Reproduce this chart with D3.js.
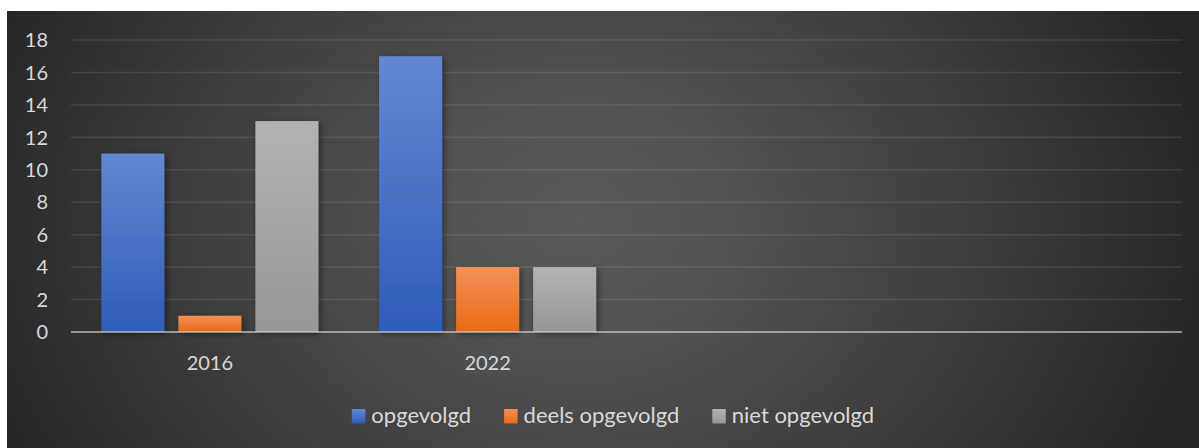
<!DOCTYPE html>
<html>
<head>
<meta charset="utf-8">
<script src="https://cdn.jsdelivr.net/npm/d3@7"></script>
<style>
  html, body { margin: 0; padding: 0; background: #fff; }
  svg { display: block; }
  text { font-family: Lato, "Open Sans", sans-serif; fill: #d9d9d9; }
</style>
</head>
<body>
<div id="chart"></div>
<script>
// categories on the x axis (Excel left two empty slots)
var categories = ["2016", "2022", "", ""];
var seriesNames = ["opgevolgd", "deels opgevolgd", "niet opgevolgd"];
var opgevolgd = [11, 17];
var deelsOpgevolgd = [1, 4];
var nietOpgevolgd = [13, 4];
var yTicks = [0, 2, 4, 6, 8, 10, 12, 14, 16, 18];

var W = 1199, H = 448;
var colors = [
    { top: "#6487d2", bottom: "#2d5db8" },
    { top: "#f39158", bottom: "#e96a14" },
    { top: "#b3b3b3", bottom: "#979797" }
];

var svg = d3.select("#chart").append("svg").attr("width", W).attr("height", H);
var defs = svg.append("defs");

var bg = defs.append("radialGradient").attr("id", "bg")
    .attr("gradientUnits", "userSpaceOnUse")
    .attr("cx", 580).attr("cy", 220).attr("r", 640)
    .attr("gradientTransform", "translate(580,220) scale(1,0.8) translate(-580,-220)");
bg.append("stop").attr("offset", "0").attr("stop-color", "#595959");
bg.append("stop").attr("offset", "0.25").attr("stop-color", "#525252");
bg.append("stop").attr("offset", "1").attr("stop-color", "#262626");

colors.forEach(function (c, i) {
    var g = defs.append("linearGradient").attr("id", "g" + i)
        .attr("x1", 0).attr("y1", 0).attr("x2", 0).attr("y2", 1);
    g.append("stop").attr("offset", "0").attr("stop-color", c.top);
    g.append("stop").attr("offset", "1").attr("stop-color", c.bottom);
});

var sh = defs.append("filter").attr("id", "shadow")
    .attr("x", "-20%").attr("y", "-20%").attr("width", "150%").attr("height", "150%");
sh.append("feDropShadow").attr("dx", 2).attr("dy", 2).attr("stdDeviation", 3)
    .attr("flood-color", "#000").attr("flood-opacity", 0.45);

// chart area background
svg.append("rect").attr("x", 7).attr("y", 11).attr("width", W - 7).attr("height", H - 11)
    .attr("fill", "url(#bg)");

var plotLeft = 71, plotRight = 1182, plotTop = 40, plotBottom = 332;

var x = d3.scaleBand().domain(d3.range(categories.length)).range([plotLeft, plotRight]).padding(0);
var xs = d3.scaleBand().domain(seriesNames).range([0, x.bandwidth()])
    .paddingInner(0.182).paddingOuter(0.394);
var y = d3.scaleLinear().domain([0, 18]).range([plotBottom, plotTop]);

// gridlines
svg.append("g").selectAll("line").data(yTicks.filter(function (d) { return d > 0; }))
    .enter().append("line")
    .attr("x1", plotLeft).attr("x2", plotRight)
    .attr("y1", function (d) { return y(d); }).attr("y2", function (d) { return y(d); })
    .attr("stroke", "#fff").attr("stroke-opacity", 0.1).attr("stroke-width", 1.5);

// y labels
svg.append("g").selectAll("text").data(yTicks).enter().append("text")
    .attr("x", 48).attr("y", function (d) { return y(d); }).attr("dy", "0.36em")
    .attr("text-anchor", "end").style("font-size", "20px")
    .text(function (d) { return d; });

// bars
var values = [opgevolgd, deelsOpgevolgd, nietOpgevolgd];
var rows = [];
values.forEach(function (arr, s) {
    arr.forEach(function (v, c) {
        rows.push({ s: s, c: c, v: v });
    });
});

svg.append("g").selectAll("rect").data(rows).enter().append("rect")
    .attr("x", function (d) { return x(d.c) + xs(seriesNames[d.s]); })
    .attr("y", function (d) { return y(d.v); })
    .attr("width", xs.bandwidth())
    .attr("height", function (d) { return y(0) - y(d.v); })
    .attr("fill", function (d) { return "url(#g" + d.s + ")"; })
    .attr("filter", "url(#shadow)");

// zero axis line
svg.append("line").attr("x1", plotLeft).attr("x2", plotRight).attr("y1", y(0)).attr("y2", y(0))
    .attr("stroke", "#d9d9d9").attr("stroke-opacity", 0.6).attr("stroke-width", 2);

// x labels
svg.append("g").selectAll("text").data(d3.range(categories.length)).enter().append("text")
    .attr("x", function (i) { return x(i) + x.bandwidth() / 2; }).attr("y", 370)
    .attr("text-anchor", "middle").style("font-size", "20px")
    .text(function (i) { return categories[i]; });

// legend
var leg = svg.append("g");
var items = leg.selectAll("g").data(seriesNames).enter().append("g");
items.append("rect").attr("width", 13.5).attr("height", 14.5).attr("y", 409)
    .attr("fill", function (d, i) { return "url(#g" + i + ")"; });
items.append("text").attr("x", 19.5).attr("y", 423).style("font-size", "22px")
    .text(function (d) { return d; });

var pos = 0, offs = [];
items.each(function () {
    offs.push(pos);
    pos += 19.5 + d3.select(this).select("text").node().getComputedTextLength() + 33;
});
var total = pos - 33;
var startX = 613 - total / 2;
items.attr("transform", function (d, i) { return "translate(" + (startX + offs[i]) + ",0)"; });
</script>
</body>
</html>
